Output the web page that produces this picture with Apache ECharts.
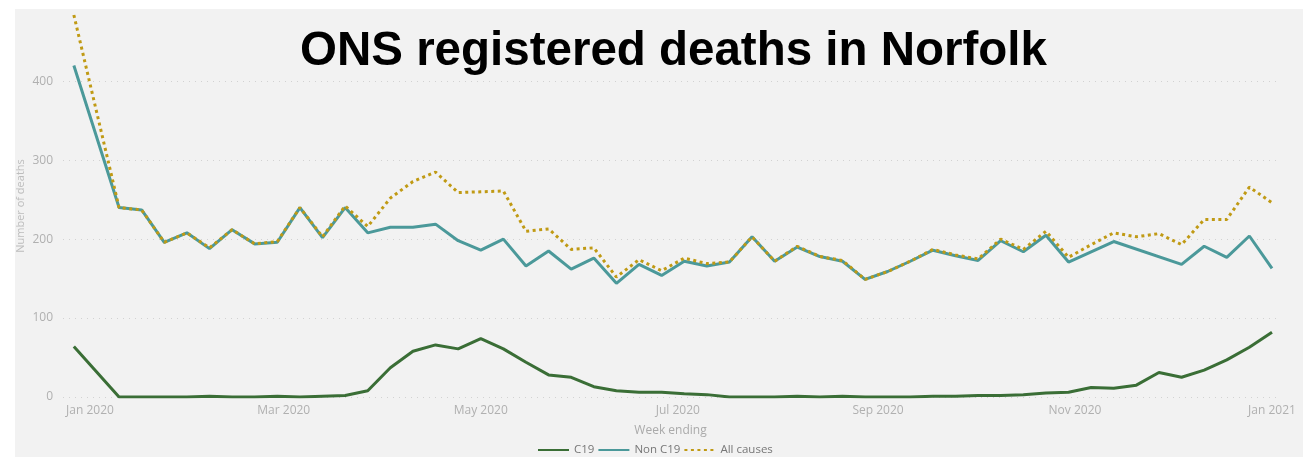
<!DOCTYPE html>
<html><head><meta charset="utf-8">
<script src="https://cdn.jsdelivr.net/npm/echarts@6/dist/echarts.min.js"></script>
<style>html,body{margin:0;padding:0;background:#fff}#c{width:1315px;height:457px}</style>
</head><body><div id="c"></div>
<script>
// Week ending dates (Fridays)
const weeks = ['2019-12-27','2020-01-10','2020-01-17','2020-01-24','2020-01-31','2020-02-07','2020-02-14','2020-02-21','2020-02-28',
  '2020-03-06','2020-03-13','2020-03-20','2020-03-27','2020-04-03','2020-04-10','2020-04-17','2020-04-24','2020-05-01','2020-05-08',
  '2020-05-15','2020-05-22','2020-05-29','2020-06-05','2020-06-12','2020-06-19','2020-06-26','2020-07-03','2020-07-10','2020-07-17',
  '2020-07-24','2020-07-31','2020-08-07','2020-08-14','2020-08-21','2020-08-28','2020-09-04','2020-09-11','2020-09-18','2020-09-25',
  '2020-10-02','2020-10-09','2020-10-16','2020-10-23','2020-10-30','2020-11-06','2020-11-13','2020-11-20','2020-11-27','2020-12-04',
  '2020-12-11','2020-12-18','2020-12-25','2021-01-01'];
const c19 = [64,0,0,0,0,1,0,0,1,0,1,2,8,37,58,66,61,74,61,44,28,25,13,8,6,6,4,3,0,0,0,1,0,1,0,0,0,1,1,2,2,3,5,6,12,11,15,31,25,34,47,63,82];
const nonC19 = [420,240,237,196,208,188,212,194,196,240,202,240,208,215,215,219,198,186,200,166,185,162,176,144,168,154,172,166,171,203,172,190,178,172,149,159,172,186,179,173,198,184,205,171,null,197,null,null,168,191,177,204,163];
const allCauses = [484,240,237,196,208,189,212,194,197,240,203,242,216,252,273,285,259,260,261,210,213,187,189,152,174,160,176,169,171,203,172,191,178,173,149,159,172,187,180,175,200,187,210,177,193,208,203,207,193,225,225,266,246];
const tickDates = ['2020-01-01','2020-03-01','2020-05-01','2020-07-01','2020-09-01','2020-11-01','2021-01-01'];
const tickLabels = ['Jan 2020','Mar 2020','May 2020','Jul 2020','Sep 2020','Nov 2020','Jan 2021'];
const yTicks = [0,100,200,300,400];
const seriesNames = ['C19','Non C19','All causes'];

function ts(s){const p=s.split('-').map(Number);return Date.UTC(p[0],p[1]-1,p[2]);}
const DAY = 86400000;
const tickTs = tickDates.map(ts);
function pairs(vals){return weeks.map((w,i)=>[ts(w), vals[i]]);}

const FONT = "'Open Sans', 'Noto Sans', sans-serif";
const chart = echarts.init(document.getElementById('c'), null, {renderer:'canvas'});
chart.setOption({
  backgroundColor:'#ffffff',
  animation:false,
  graphic:[{type:'rect', z:-10, silent:true, shape:{x:15,y:9,width:1288,height:448}, style:{fill:'#f2f2f2'}}],
  title:{text:'ONS registered deaths in Norfolk', left:295, top:23,
    textStyle:{fontFamily:"'Liberation Sans', Arial, sans-serif", fontWeight:'bold', fontSize:47.5, color:'#000'}},
  grid:{left:63, right:37, top:15, bottom:60},
  legend:{left:537, top:444, padding:0, itemWidth:31, itemHeight:10, itemGap:3,
    itemStyle:{color:'transparent', borderColor:'transparent', borderWidth:0, opacity:0},
    textStyle:{color:'#777', fontSize:11.5, fontFamily:FONT}, data:seriesNames},
  xAxis:{type:'value', min:ts('2020-01-01')-8.36*DAY, max:ts('2021-01-01')+1.86*DAY, scale:true,
    name:'Week ending', nameLocation:'middle', nameGap:28,
    nameTextStyle:{color:'#aaa', fontSize:12, fontFamily:FONT},
    axisLine:{show:false}, axisTick:{show:false, customValues:tickTs}, splitLine:{show:false},
    axisLabel:{customValues:tickTs, showMinLabel:true, showMaxLabel:true, color:'#b0b0b0', fontSize:12, fontFamily:FONT, margin:8,
      formatter:function(v){const i=tickTs.indexOf(v);return i>=0?tickLabels[i]:'';}}},
  yAxis:{type:'value', min:0, max:484,
    name:'Number of deaths', nameLocation:'middle', nameGap:37, nameMoveOverlap:false,
    nameTextStyle:{color:'#bdbdbd', fontSize:11, fontFamily:FONT},
    axisLine:{show:false}, axisTick:{show:false, customValues:yTicks},
    axisLabel:{customValues:yTicks, color:'#b0b0b0', fontSize:12, fontFamily:FONT, margin:10},
    splitLine:{show:true, lineStyle:{color:'#d2d2d2', type:[1,5], width:1}}},
  series:[
    {name:seriesNames[0], type:'line', data:pairs(c19), symbol:'none', lineStyle:{color:'#3a6e36', width:3}, itemStyle:{color:'#3a6e36'}},
    {name:seriesNames[1], type:'line', data:pairs(nonC19), connectNulls:true, symbol:'none', lineStyle:{color:'#4b999a', width:3}, itemStyle:{color:'#4b999a'}},
    {name:seriesNames[2], type:'line', data:pairs(allCauses), symbol:'none', lineStyle:{color:'#c09a14', width:3, type:[3,3.5]}, itemStyle:{color:'#c09a14'}}
  ]
});
</script></body></html>
